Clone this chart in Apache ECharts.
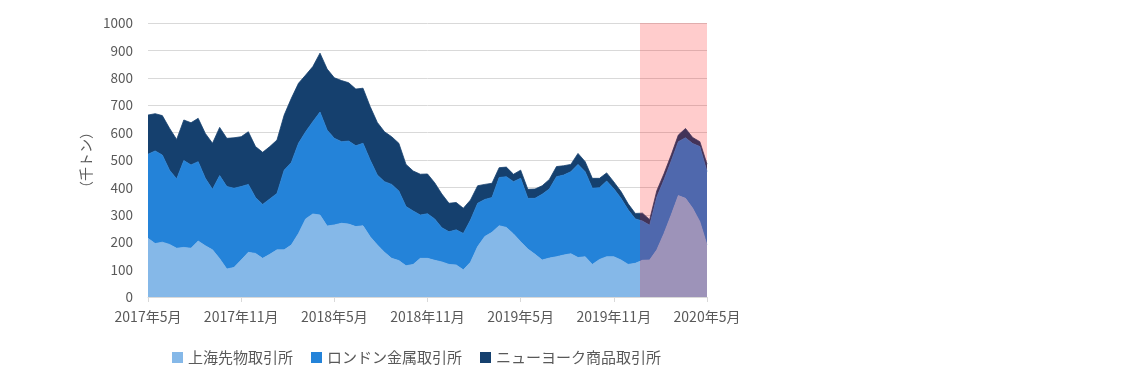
<!DOCTYPE html>
<html><head><meta charset="utf-8">
<script src="https://cdn.jsdelivr.net/npm/echarts@6/dist/echarts.min.js"></script>
<style>html,body{margin:0;padding:0;background:#fff}#c{width:1134px;height:372px}</style>
</head><body><div id="c"></div>
<script>
// bi-weekly samples, May 2017 - May 2020 (79 points)
const tickLabels = ['2017年5月','2017年11月','2018年5月','2018年11月','2019年5月','2019年11月','2020年5月'];
const seriesNames = ['上海先物取引所','ロンドン金属取引所','ニューヨーク商品取引所'];
const shfe = [214,195,200,192,178,181,178,204,187,172,140,102,108,135,163,159,141,156,172,172,
  190,232,285,303,299,259,263,269,266,257,260,220,190,163,141,133,114,119,141,141,
  134,128,119,117,99,127,184,221,236,260,254,230,202,175,156,135,142,147,153,158,
  144,147,119,137,147,147,135,119,123,134,135,172,232,299,370,360,324,275,190];
const lme = [307,338,318,271,253,317,304,290,246,221,303,301,289,268,248,204,197,202,206,291,
  301,329,318,337,376,350,316,298,303,295,301,280,255,258,270,254,216,195,158,163,
  151,125,119,128,133,154,158,135,127,176,185,191,231,185,204,240,252,292,292,299,
  340,310,278,262,276,248,225,199,162,143,127,193,196,197,197,221,236,274,268];
const nymex = [143,136,144,153,144,148,154,158,164,168,176,176,184,182,192,186,190,191,195,201,
  234,219,207,201,215,223,221,223,213,207,201,195,192,182,174,174,154,146,149,145,
  132,123,104,100,92,73,64,55,52,36,35,27,30,33,34,31,35,37,34,27,
  40,37,36,34,30,25,25,22,20,29,20,23,22,22,24,34,22,18,27];
const shadeStart = 68.65; // sample index where the highlighted period begins
const shadeEnd = 78;

// category labels: a tick label every 13 samples (6 months)
const categories = shfe.map((_, i) => (i % 13 === 0 ? tickLabels[i / 13] : 'p' + i));

const colors = ['#85B8E8','#2483D9','#15406E'];
const textColor = '#595959';
const font = '"Noto Sans CJK JP", "Noto Sans", sans-serif';
const makeSeries = (name, data, color) => ({
  name, type:'line', stack:'total', data, symbol:'none', smooth:false, z:2,
  lineStyle:{width:0.8,color}, itemStyle:{color}, areaStyle:{color, opacity:1}
});

const chart = echarts.init(document.getElementById('c'), null, {renderer:'canvas'});
chart.setOption({
  animation:false,
  textStyle:{fontFamily:font},
  grid:{left:148, right:427, top:23, bottom:75},
  legend:{
    data:seriesNames, left:167, top:345, itemWidth:11, itemHeight:11, itemGap:18, icon:'rect',
    textStyle:{fontSize:15, color:textColor, fontFamily:font}
  },
  xAxis:[{
    type:'category', data:categories, boundaryGap:false,
    axisLine:{show:true, lineStyle:{color:'#d9d9d9'}},
    axisTick:{show:true, length:5, interval:12, lineStyle:{color:'#d9d9d9'}},
    splitLine:{show:false},
    axisLabel:{color:textColor, fontSize:14, margin:13, interval:12, fontFamily:font}
  },{
    type:'value', min:0, max:78, show:false
  }],
  yAxis:{
    type:'value', min:0, max:1000, interval:100,
    name:'（千トン）', nameLocation:'middle', nameRotate:90, nameGap:55,
    nameTextStyle:{color:textColor, fontSize:14, fontFamily:font},
    axisLine:{show:false}, axisTick:{show:false},
    splitLine:{lineStyle:{color:'#d9d9d9'}},
    axisLabel:{color:textColor, fontSize:13.5, margin:15, fontFamily:font, formatter: v => String(v)}
  },
  series:[
    makeSeries(seriesNames[0], shfe, colors[0]),
    makeSeries(seriesNames[1], lme, colors[1]),
    makeSeries(seriesNames[2], nymex, colors[2]),
    {
      name:'shade', type:'line', xAxisIndex:1, data:[], z:10,
      markArea:{silent:true, z:10, itemStyle:{color:'rgba(255,0,0,0.2)'},
        data:[[{xAxis:shadeStart, yAxis:0},{xAxis:shadeEnd, yAxis:1000}]]}
    }
  ]
});
</script></body></html>
